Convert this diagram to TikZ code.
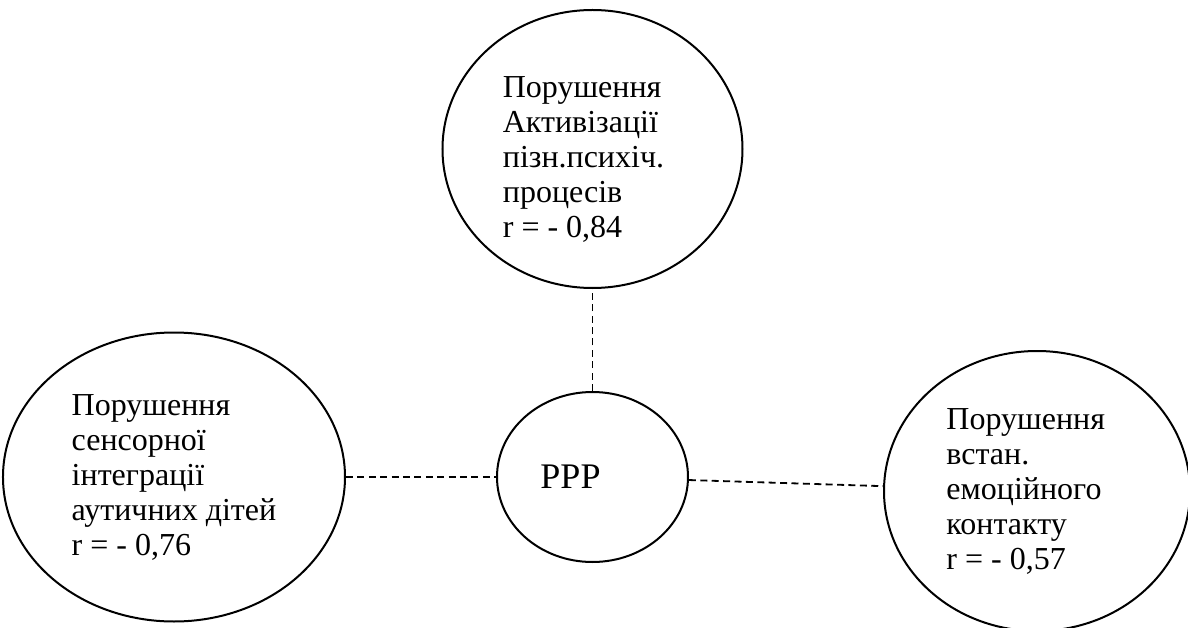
\documentclass[tikz,border=0pt]{standalone}
\usepackage{fontspec}
\setmainfont{Liberation Serif}
\usetikzlibrary{bayesnet,positioning,shapes.geometric}

\begin{document}
\begin{tikzpicture}[
    factor/.style={ellipse, draw, line width=1pt, inner sep=0pt, align=left, font=\fontsize{16}{17.5}\selectfont},
    centre/.style={ellipse, draw, line width=1pt, inner sep=0pt, font=\fontsize{18}{20}\selectfont},
    link/.style={-, dash pattern=on 3.5pt off 2.2pt, line width=0.9pt}
  ]

        \useasboundingbox (-296.25pt,-75pt) rectangle (297.75pt,238.5pt);

        % Nodes

        \node[centre, minimum width=95.5pt, minimum height=85pt] (ppp) {PPP\hspace*{22pt}};
        \node[factor, minimum width=150pt, minimum height=139pt, above=51pt of ppp] (act) {\rule{0pt}{21pt}Порушення\\Активізації\\пізн.психіч.\kern9pt\\процесів\\r = - 0,84};
        \node[factor, minimum width=171pt, minimum height=144.5pt, left=75pt of ppp] (sens) {Порушення\\сенсорної\\інтеграції\\аутичних дітей\\r = - 0,76};
        \node[factor, minimum width=153pt, minimum height=140pt, right=97pt of ppp, yshift=-7pt] (emo) {Порушення\\встан.\\емоційного\kern13pt\\контакту\\r = - 0,57};

        % Edges

        \edge[link] {ppp} {act};
        \edge[link] {sens} {ppp};
        \edge[link] {ppp} {emo};

    \end{tikzpicture}
\end{document}
